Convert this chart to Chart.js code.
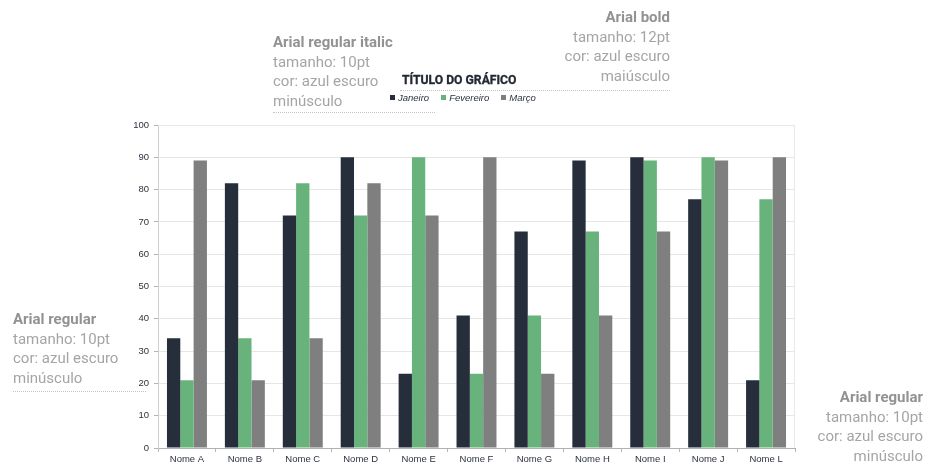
<!DOCTYPE html>
<html lang="pt">
<head>
    <meta charset="UTF-8">
    <title>Título do gráfico</title>
    <style>
        body {
            margin: 0;
            width: 926px;
            height: 464px;
            overflow: hidden;
            background: #fff;
            font-family: Roboto, "Liberation Sans", sans-serif;
            position: relative;
        }
        #chart {
            position: absolute;
            left: 0;
            top: 0;
        }
        .note {
            position: absolute;
            color: #a5a5a5;
            font-size: 15px;
            line-height: 19.5px;
            white-space: nowrap;
        }
        .note b {
            color: #929292;
            font-weight: bold;
        }
        .right { text-align: right; }
        .dots {
            position: absolute;
            border-top: 1.5px dotted #c4c4c4;
            height: 0;
        }
        #title {
            position: absolute;
            left: 402px;
            top: 73px;
            font-family: Roboto, sans-serif;
            font-weight: bold;
            font-size: 12.2px;
            color: #222833;
            -webkit-text-stroke: 0.3px #222833;
        }
        #legend {
            position: absolute;
            left: 390px;
            top: 92px;
            font-family: "Liberation Sans", Arial, sans-serif;
            font-style: italic;
            font-size: 9.5px;
            color: #2b3240;
            display: flex;
            gap: 12px;
        }
        #legend span i {
            display: inline-block;
            width: 5px;
            height: 5px;
            margin-right: 3px;
            vertical-align: 1px;
        }
    </style>
</head>
<body>
    <canvas id="chart" width="926" height="464"></canvas>

    <div class="note" style="left:273px; top:33px;">
        <b>Arial regular italic</b><br>tamanho: 10pt<br>cor: azul escuro<br>minúsculo
    </div>
    <div class="dots" style="left:273px; top:112px; width:162px;"></div>

    <div class="note right" style="right:256px; top:8px;">
        <b>Arial bold</b><br>tamanho: 12pt<br>cor: azul escuro<br>maiúsculo
    </div>
    <div class="dots" style="left:400px; top:90px; width:270px;"></div>

    <div class="note" style="left:13px; top:310px;">
        <b>Arial regular</b><br>tamanho: 10pt<br>cor: azul escuro<br>minúsculo
    </div>
    <div class="dots" style="left:13px; top:391px; width:133px;"></div>

    <div class="note right" style="right:3px; top:388px;">
        <b>Arial regular</b><br>tamanho: 10pt<br>cor: azul escuro<br>minúsculo
    </div>

    <div id="title">TÍTULO DO GRÁFICO</div>
    <div id="legend"></div>

    <script src="https://cdn.jsdelivr.net/npm/chart.js"></script>
    <script>
        const categories = ['Nome A', 'Nome B', 'Nome C', 'Nome D', 'Nome E', 'Nome F', 'Nome G', 'Nome H', 'Nome I', 'Nome J', 'Nome L'];
        const janeiro = [34, 82, 72, 90, 23, 41, 67, 89, 90, 77, 21];
        const fevereiro = [21, 34, 82, 72, 90, 23, 41, 67, 89, 90, 77];
        const marco = [89, 21, 34, 82, 72, 90, 23, 41, 67, 89, 90];
        const seriesNames = ['Janeiro', 'Fevereiro', 'Março'];
        const colors = ['#262e3c', '#68b37c', '#7f7f7f'];

        const datasets = [janeiro, fevereiro, marco].map((values, i) => ({
            label: seriesNames[i],
            data: values,
            backgroundColor: colors[i],
            borderWidth: 0,
            categoryPercentage: 0.69,
            barPercentage: 1.0
        }));

        // legend built from the dataset names/colours
        document.getElementById('legend').innerHTML = datasets.map(d =>
            `<span><i style="background:${d.backgroundColor}"></i>${d.label}</span>`).join('');

        // light frame around the plot area
        const frame = {
            id: 'frame',
            beforeDatasetsDraw(chart) {
                const a = chart.chartArea;
                const ctx = chart.ctx;
                ctx.save();
                ctx.strokeStyle = '#e8e8e8';
                ctx.lineWidth = 1;
                ctx.beginPath();
                ctx.moveTo(a.left, a.top + 0.5);
                ctx.lineTo(a.right - 0.5, a.top + 0.5);
                ctx.lineTo(a.right - 0.5, a.bottom);
                ctx.stroke();
                ctx.restore();
            }
        };

        const tickFont = { family: '"Liberation Sans", Arial, sans-serif', size: 9.5 };

        new Chart(document.getElementById('chart'), {
            type: 'bar',
            data: { labels: categories, datasets: datasets },
            plugins: [frame],
            options: {
                responsive: false,
                animation: false,
                layout: { padding: { left: 124, right: 131, top: 125, bottom: 0 } },
                plugins: {
                    legend: { display: false },
                    title: { display: false },
                    tooltip: { enabled: false }
                },
                scales: {
                    x: {
                        grid: { display: true, drawOnChartArea: false, drawTicks: true, tickLength: 4, color: '#b5b5b5', offset: true },
                        border: { color: '#b0b0b0' },
                        ticks: { font: tickFont, color: '#2b3240', padding: 2, maxRotation: 0 },
                        afterFit(scale) { scale.height = 16; }
                    },
                    y: {
                        min: 0,
                        max: 100,
                        ticks: { stepSize: 10, font: tickFont, color: '#2b3240', padding: 5 },
                        grid: { color: '#e6e6e6', tickLength: 4, tickColor: '#b5b5b5' },
                        border: { color: '#cfcfcf' },
                        afterFit(scale) { scale.width = 34; }
                    }
                }
            }
        });
    </script>
</body>
</html>
